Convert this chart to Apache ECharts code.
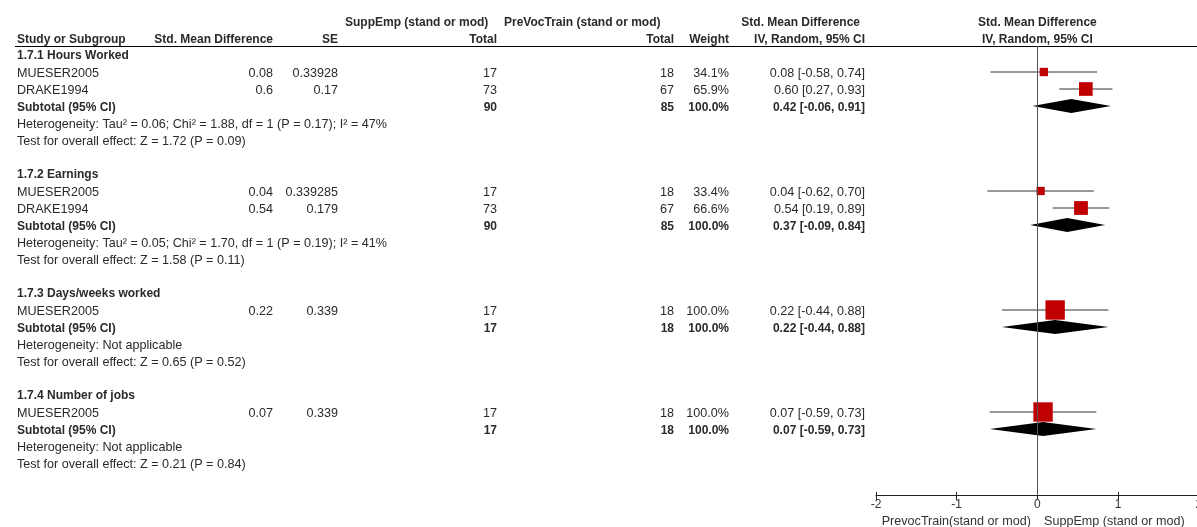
<!DOCTYPE html>
<html><head><meta charset="utf-8">
<script src="https://cdn.jsdelivr.net/npm/echarts@6/dist/echarts.min.js"></script>
<style>html,body{margin:0;padding:0;background:#fff}#c{width:1197px;height:527px}</style>
</head><body><div id="c"></div>
<script>
// ---- data ----
const groupTitles = ['1.7.1 Hours Worked', '1.7.2 Earnings', '1.7.3 Days/weeks worked', '1.7.4 Number of jobs'];
const studyGroup = [0, 0, 1, 1, 2, 3];
const studyNames = ['MUESER2005', 'DRAKE1994', 'MUESER2005', 'DRAKE1994', 'MUESER2005', 'MUESER2005'];
const studySMD = [0.08, 0.60, 0.04, 0.54, 0.22, 0.07];
const studySMDLabel = ['0.08', '0.6', '0.04', '0.54', '0.22', '0.07'];
const studySE = ['0.33928', '0.17', '0.339285', '0.179', '0.339', '0.339'];
const suppEmpTotal = [17, 73, 17, 73, 17, 17];
const preVocTotal = [18, 67, 18, 67, 18, 18];
const studyWeight = [34.1, 65.9, 33.4, 66.6, 100.0, 100.0];
const studyLow = [-0.58, 0.27, -0.62, 0.19, -0.44, -0.59];
const studyHigh = [0.74, 0.93, 0.70, 0.89, 0.88, 0.73];
const subEst = [0.42, 0.37, 0.22, 0.07];
const subLow = [-0.06, -0.09, -0.44, -0.59];
const subHigh = [0.91, 0.84, 0.88, 0.73];
const subSuppEmp = [90, 90, 17, 17];
const subPreVoc = [85, 85, 18, 18];
const subWeight = [100.0, 100.0, 100.0, 100.0];
const heterogeneity = [
  'Heterogeneity: Tau\u00B2 = 0.06; Chi\u00B2 = 1.88, df = 1 (P = 0.17); I\u00B2 = 47%',
  'Heterogeneity: Tau\u00B2 = 0.05; Chi\u00B2 = 1.70, df = 1 (P = 0.19); I\u00B2 = 41%',
  'Heterogeneity: Not applicable',
  'Heterogeneity: Not applicable'
];
const overallEffect = [
  'Test for overall effect: Z = 1.72 (P = 0.09)',
  'Test for overall effect: Z = 1.58 (P = 0.11)',
  'Test for overall effect: Z = 0.65 (P = 0.52)',
  'Test for overall effect: Z = 0.21 (P = 0.84)'
];
const xTicks = [-2, -1, 0, 1, 2];
const axisLeftLabel = 'PrevocTrain(stand or mod)';
const axisRightLabel = 'SuppEmp (stand or mod)';

// ---- layout ----
const ROW_H = 17, GRID_TOP = 46, GRID_BOTTOM_Y = 495, ROW0_Y = 55;
const yMin = -(ROW0_Y - GRID_TOP) / ROW_H;
const yMax = yMin + (GRID_BOTTOM_Y - GRID_TOP) / ROW_H;
const COL = { name: 17, smd: 273, se: 338, supp: 497, prevoc: 674, weight: 729, ci: 865 };
const REG = '12.6px "Liberation Sans", Arial, sans-serif';
const BOLD = 'bold 12px "Liberation Sans", Arial, sans-serif';
const TXT = '#2a2a2a';

// build row list
const rows = [{ type: 'head1', row: -2 }, { type: 'head2', row: -1 }];
const studyRows = [], subRows = [];
let r = 0;
groupTitles.forEach((g, gi) => {
  rows.push({ type: 'group', idx: gi, row: r++ });
  studyGroup.forEach((sg, si) => {
    if (sg === gi) { studyRows[si] = r; rows.push({ type: 'study', idx: si, row: r++ }); }
  });
  subRows[gi] = r; rows.push({ type: 'sub', idx: gi, row: r++ });
  rows.push({ type: 'het', idx: gi, row: r++ });
  rows.push({ type: 'test', idx: gi, row: r++ });
  r++;
});
const ciText = (e, l, h) => e.toFixed(2) + ' [' + l.toFixed(2) + ', ' + h.toFixed(2) + ']';

function t(x, y, s, align, font) {
  return { type: 'text', style: { x: x, y: y, text: s, align: align, verticalAlign: 'middle', font: font || REG, fill: TXT } };
}

const chart = echarts.init(document.getElementById('c'), null, { renderer: 'canvas' });
chart.setOption({
  animation: false,
  backgroundColor: '#fff',
  grid: { left: 876, top: GRID_TOP, width: 322.8, height: GRID_BOTTOM_Y - GRID_TOP, containLabel: false, outerBoundsMode: 'none' },
  xAxis: [{
    type: 'value', min: xTicks[0], max: xTicks[xTicks.length - 1], interval: 1, position: 'bottom',
    axisLine: { show: true, onZero: false, lineStyle: { color: '#222', width: 1 } },
    axisTick: { show: true, length: 5, lineStyle: { color: '#222' } },
    axisLabel: { color: '#333', fontSize: 12, margin: 4, fontFamily: '"Liberation Sans", Arial, sans-serif' },
    splitLine: { show: false }
  }, {
    type: 'value', min: xTicks[0], max: xTicks[xTicks.length - 1], interval: 1, position: 'bottom', offset: 0,
    axisLine: { show: false, onZero: false },
    axisTick: { show: true, inside: true, length: 3, lineStyle: { color: '#222' } },
    axisLabel: { show: false },
    splitLine: { show: false }
  }],
  yAxis: { type: 'value', inverse: true, min: yMin, max: yMax, show: false },
  graphic: [
    { type: 'line', shape: { x1: 15, y1: 46.5, x2: 1197, y2: 46.5 }, style: { stroke: '#000', lineWidth: 1.2 } },
    { type: 'text', style: { x: 1031, y: 522, text: axisLeftLabel, align: 'right', verticalAlign: 'middle', font: REG, fill: '#333' } },
    { type: 'text', style: { x: 1044, y: 522, text: axisRightLabel, align: 'left', verticalAlign: 'middle', font: REG, fill: '#333' } }
  ],
  series: [
    {
      type: 'custom', name: 'table', silent: true, clip: false,
      data: rows.map(o => [0, o.row]),
      markLine: {
        silent: true, symbol: 'none', label: { show: false },
        lineStyle: { color: '#555', width: 1, type: 'solid' },
        data: [{ xAxis: 0 }]
      },
      renderItem: function (params, api) {
        const o = rows[params.dataIndex];
        const y = api.coord([0, o.row])[1] + 2;
        const cx = api.coord([0, o.row])[0];
        const ch = [];
        if (o.type === 'head1') {
          ch.push(t(345, y, 'SuppEmp (stand or mod)', 'left', BOLD));
          ch.push(t(504, y, 'PreVocTrain (stand or mod)', 'left', BOLD));
          ch.push(t(860, y, 'Std. Mean Difference', 'right', BOLD));
          ch.push(t(cx, y, 'Std. Mean Difference', 'center', BOLD));
        } else if (o.type === 'head2') {
          ch.push(t(COL.name, y, 'Study or Subgroup', 'left', BOLD));
          ch.push(t(COL.smd, y, 'Std. Mean Difference', 'right', BOLD));
          ch.push(t(COL.se, y, 'SE', 'right', BOLD));
          ch.push(t(COL.supp, y, 'Total', 'right', BOLD));
          ch.push(t(COL.prevoc, y, 'Total', 'right', BOLD));
          ch.push(t(COL.weight, y, 'Weight', 'right', BOLD));
          ch.push(t(COL.ci, y, 'IV, Random, 95% CI', 'right', BOLD));
          ch.push(t(cx, y, 'IV, Random, 95% CI', 'center', BOLD));
        } else if (o.type === 'group') {
          ch.push(t(COL.name, y - 1, groupTitles[o.idx], 'left', BOLD));
        } else if (o.type === 'study') {
          const i = o.idx;
          ch.push(t(COL.name, y, studyNames[i], 'left'));
          ch.push(t(COL.smd, y, studySMDLabel[i], 'right'));
          ch.push(t(COL.se, y, studySE[i], 'right'));
          ch.push(t(COL.supp, y, String(suppEmpTotal[i]), 'right'));
          ch.push(t(COL.prevoc, y, String(preVocTotal[i]), 'right'));
          ch.push(t(COL.weight, y, studyWeight[i].toFixed(1) + '%', 'right'));
          ch.push(t(COL.ci, y, ciText(studySMD[i], studyLow[i], studyHigh[i]), 'right'));
        } else if (o.type === 'sub') {
          const i = o.idx;
          ch.push(t(COL.name, y, 'Subtotal (95% CI)', 'left', BOLD));
          ch.push(t(COL.supp, y, String(subSuppEmp[i]), 'right', BOLD));
          ch.push(t(COL.prevoc, y, String(subPreVoc[i]), 'right', BOLD));
          ch.push(t(COL.weight, y, subWeight[i].toFixed(1) + '%', 'right', BOLD));
          ch.push(t(COL.ci, y, ciText(subEst[i], subLow[i], subHigh[i]), 'right', BOLD));
        } else if (o.type === 'het') {
          ch.push(t(COL.name, y, heterogeneity[o.idx], 'left'));
        } else if (o.type === 'test') {
          ch.push(t(COL.name, y, overallEffect[o.idx], 'left'));
        }
        return { type: 'group', children: ch };
      }
    },
    {
      type: 'custom', name: 'studies', silent: true, clip: false,
      data: studySMD.map((v, i) => [v, studyRows[i], studyLow[i], studyHigh[i], studyWeight[i]]),
      renderItem: function (params, api) {
        const p = api.coord([api.value(0), api.value(1)]);
        const a = api.coord([api.value(2), api.value(1)]);
        const b = api.coord([api.value(3), api.value(1)]);
        const s = 2.7 + api.value(4) / 6;
        return {
          type: 'group', children: [
            { type: 'line', shape: { x1: a[0], y1: a[1], x2: b[0], y2: b[1] }, style: { stroke: '#333', lineWidth: 1 } },
            { type: 'rect', shape: { x: p[0] - s / 2, y: p[1] - s / 2, width: s, height: s }, style: { fill: '#c00000' } }
          ]
        };
      }
    },
    {
      type: 'custom', name: 'subtotals', silent: true, clip: false,
      data: subEst.map((v, i) => [v, subRows[i], subLow[i], subHigh[i]]),
      renderItem: function (params, api) {
        const p = api.coord([api.value(0), api.value(1)]);
        const a = api.coord([api.value(2), api.value(1)]);
        const b = api.coord([api.value(3), api.value(1)]);
        return {
          type: 'polygon',
          shape: { points: [[a[0], a[1]], [p[0], p[1] - 7], [b[0], b[1]], [p[0], p[1] + 7]] },
          style: { fill: '#000' }
        };
      }
    }
  ]
});
</script></body></html>
